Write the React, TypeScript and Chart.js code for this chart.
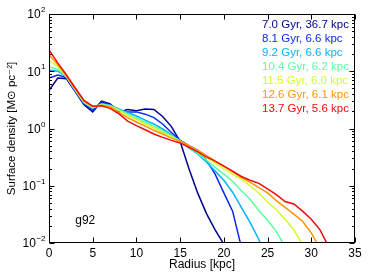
import React, { useEffect, useRef } from "react";
import { Chart, registerables } from "chart.js";

Chart.register(...registerables);

// ---- data ----
const radii = [0, 1, 2, 3, 4, 5, 6, 7, 8, 9, 10, 11, 12, 13, 14, 15, 16, 17, 18, 19, 20, 21, 22, 23, 24, 25, 26, 27, 28, 29, 30, 31, 32];

const seriesLabels = [
  "7.0 Gyr, 36.7 kpc",
  "8.1 Gyr, 6.6 kpc",
  "9.2 Gyr, 6.6 kpc",
  "10.4 Gyr, 6.2 kpc",
  "11.5 Gyr, 6.0 kpc",
  "12.6 Gyr, 6.1 kpc",
  "13.7 Gyr, 5.6 kpc",
];

const seriesColors = ["#000090", "#0a28f0", "#00b4ff", "#5affa0", "#cfff2a", "#ff9400", "#f00a0a"];

const sigma70 = [4.6, 7.6, 7.4, 4.4, 2.6, 1.95, 3.0, 2.7, 1.95, 2.15, 2.05, 2.2, 2.15, 1.62, 1.08, 0.59, 0.2, 0.075, 0.033, 0.017, 0.0095];
const sigma81 = [7.6, 8.6, 7.7, 4.5, 2.7, 2.1, 2.9, 2.6, 2.05, 1.95, 1.95, 1.78, 1.55, 1.2, 0.85, 0.62, 0.5, 0.42, 0.28, 0.16, 0.075, 0.036, 0.0085];
const sigma92 = [10.5, 10, 7.9, 4.6, 2.8, 2.25, 2.7, 2.55, 2.2, 1.9, 1.65, 1.4, 1.2, 0.98, 0.78, 0.6, 0.46, 0.36, 0.26, 0.18, 0.125, 0.077, 0.042, 0.023, 0.0115, 0.005];
const sigma104 = [12, 10.8, 8.0, 4.7, 2.85, 2.3, 2.65, 2.5, 2.15, 1.8, 1.55, 1.3, 1.1, 0.92, 0.75, 0.6, 0.47, 0.37, 0.28, 0.21, 0.16, 0.12, 0.082, 0.058, 0.037, 0.025, 0.016, 0.0085];
const sigma115 = [15.5, 12, 8.1, 4.8, 2.9, 2.35, 2.6, 2.45, 2.05, 1.7, 1.45, 1.2, 1.02, 0.86, 0.72, 0.6, 0.48, 0.39, 0.31, 0.25, 0.2, 0.16, 0.13, 0.1, 0.074, 0.052, 0.038, 0.026, 0.017, 0.0095];
const sigma126 = [19.5, 13, 8.3, 4.9, 3.0, 2.4, 2.55, 2.4, 1.9, 1.55, 1.3, 1.1, 0.93, 0.8, 0.68, 0.6, 0.5, 0.42, 0.34, 0.27, 0.22, 0.175, 0.14, 0.115, 0.093, 0.075, 0.055, 0.042, 0.032, 0.024, 0.015, 0.008];
const sigma137 = [23.5, 14, 8.6, 5.1, 3.1, 2.45, 2.5, 2.25, 1.8, 1.35, 1.12, 0.95, 0.8, 0.7, 0.62, 0.56, 0.47, 0.39, 0.32, 0.27, 0.22, 0.18, 0.145, 0.125, 0.11, 0.088, 0.07, 0.053, 0.048, 0.036, 0.026, 0.017, 0.0085];

const allSeries = [sigma70, sigma81, sigma92, sigma104, sigma115, sigma126, sigma137];

const xTicks = [0, 5, 10, 15, 20, 25, 30, 35];
const yTickExponents = [-2, -1, 0, 1, 2];
const panelLabel = "g92";
const xTitle = "Radius [kpc]";
const yTitle = "Surface density [M\u2299 pc\u207B\u00B2]";

const FONT = '"Liberation Sans", "DejaVu Sans", sans-serif';

const decor = {
  id: "decor",
  afterDraw(chart: any) {
    const { ctx, chartArea: a, scales } = chart;
    const x = scales.x;
    const y = scales.y;
    ctx.save();
    ctx.strokeStyle = "#000";
    ctx.lineWidth = 1;
    const L = Math.round(a.left) + 0.5;
    const R = Math.round(a.right) - 0.5;
    const T = Math.round(a.top) + 0.5;
    const B = Math.round(a.bottom) - 0.5;
    ctx.strokeRect(L, T, R - L, B - T);

    ctx.beginPath();
    for (const v of xTicks) {
      const px = Math.round(x.getPixelForValue(v)) + 0.5;
      ctx.moveTo(px, B);
      ctx.lineTo(px, B - 5);
      ctx.moveTo(px, T);
      ctx.lineTo(px, T + 5);
    }
    for (const e of yTickExponents) {
      const py = Math.round(y.getPixelForValue(Math.pow(10, e))) + 0.5;
      ctx.moveTo(L, py);
      ctx.lineTo(L + 5, py);
      ctx.moveTo(R, py);
      ctx.lineTo(R - 5, py);
    }
    for (let e = yTickExponents[0]; e < yTickExponents[yTickExponents.length - 1]; e++) {
      for (let m = 2; m <= 9; m++) {
        const py = Math.round(y.getPixelForValue(m * Math.pow(10, e))) + 0.5;
        ctx.moveTo(L, py);
        ctx.lineTo(L + 2.5, py);
        ctx.moveTo(R, py);
        ctx.lineTo(R - 2.5, py);
      }
    }
    ctx.stroke();

    // y tick labels with superscripts
    ctx.fillStyle = "#000";
    ctx.textBaseline = "middle";
    ctx.textAlign = "left";
    for (const e of yTickExponents) {
      const py = y.getPixelForValue(Math.pow(10, e));
      const exp = e < 0 ? "\u2212" + Math.abs(e) : String(e);
      ctx.font = "12px " + FONT;
      const w10 = ctx.measureText("10").width;
      ctx.font = "8px " + FONT;
      const we = ctx.measureText(exp).width;
      const x0 = a.left - 4 - w10 - we;
      ctx.font = "12px " + FONT;
      ctx.fillText("10", x0, py + 1);
      ctx.font = "8px " + FONT;
      ctx.fillText(exp, x0 + w10 + 0.5, py - 4);
    }

    // legend (text only)
    ctx.font = "11.5px " + FONT;
    ctx.textAlign = "left";
    seriesLabels.forEach((lab, i) => {
      ctx.fillStyle = seriesColors[i];
      ctx.fillText(lab, a.right - 93, a.top + 11 + 14 * i);
    });

    // panel label
    ctx.fillStyle = "#000";
    ctx.font = "12px " + FONT;
    ctx.fillText(panelLabel, x.getPixelForValue(3), y.getPixelForValue(0.025));

    // axis titles
    ctx.textAlign = "center";
    ctx.fillText(xTitle, (a.left + a.right) / 2, 265);
    ctx.save();
    ctx.translate(12, (a.top + a.bottom) / 2);
    ctx.rotate(-Math.PI / 2);
    ctx.font = "11.5px " + FONT;
    ctx.fillText(yTitle, 0, 0);
    ctx.restore();

    ctx.restore();
  },
};

export default function App() {
  const ref = useRef<HTMLCanvasElement | null>(null);
  useEffect(() => {
    document.body.style.margin = "0";
    const canvas = ref.current;
    if (!canvas) return;
    const datasets = allSeries.map((vals, i) => ({
      label: seriesLabels[i],
      data: vals.map((v, j) => ({ x: radii[j], y: v })),
      borderColor: seriesColors[i],
      backgroundColor: seriesColors[i],
      borderWidth: 1.5,
      pointRadius: 0,
      fill: false,
      tension: 0,
      order: allSeries.length - 1 - i,
    }));
    const chart = new Chart(canvas, {
      type: "line",
      data: { datasets },
      options: {
        responsive: false,
        animation: false,
        layout: { padding: { top: 14, right: 19, left: 0, bottom: 0 } },
        plugins: { legend: { display: false }, tooltip: { enabled: false } },
        scales: {
          x: {
            type: "linear",
            min: 0,
            max: 35,
            afterBuildTicks: (s: any) => {
              s.ticks = xTicks.map((v) => ({ value: v }));
            },
            ticks: {
              color: "#000",
              font: { family: FONT, size: 12 },
              padding: 3,
              maxRotation: 0,
              autoSkip: false,
            },
            grid: { display: false, drawTicks: false },
            border: { display: false },
            afterFit: (s: any) => {
              s.height = 37;
            },
          },
          y: {
            type: "logarithmic",
            min: 0.01,
            max: 100,
            ticks: { display: false },
            grid: { display: false, drawTicks: false },
            border: { display: false },
            afterFit: (s: any) => {
              s.width = 49;
            },
          },
        },
      } as any,
      plugins: [decor],
    });
    return () => chart.destroy();
  }, []);
  return (
    <div style={{ position: "absolute", left: 0, top: 0, width: 374, height: 280 }}>
      <canvas ref={ref} width={374} height={280} style={{ display: "block" }} />
    </div>
  );
}
